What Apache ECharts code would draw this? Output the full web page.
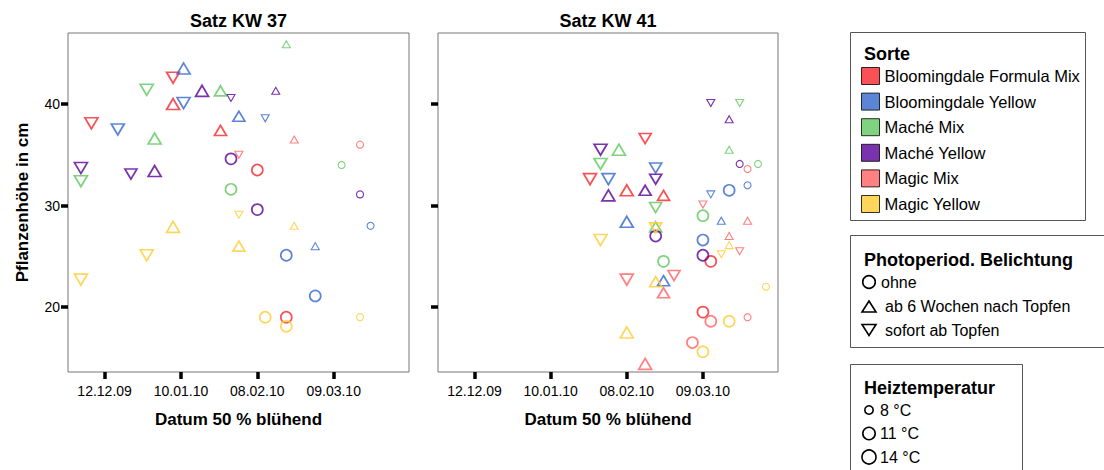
<!DOCTYPE html>
<html><head><meta charset="utf-8">
<script src="https://cdn.jsdelivr.net/npm/echarts@6/dist/echarts.min.js"></script>
<style>html,body{margin:0;padding:0;background:#fff}#c{width:1104px;height:470px}</style>
</head><body><div id="c"></div>
<script>
// ---------- data ----------
const sorten = ['Bloomingdale Formula Mix','Bloomingdale Yellow','Maché Mix','Maché Yellow','Magic Mix','Magic Yellow'];
const sortenFarben = ['#f8262a','#3366cc','#5fc85f','#5a0099','#ff6262','#ffcc33'];
const panelTitel = ['Satz KW 37','Satz KW 41'];
const xTickDaten = ['12.12.09','10.01.10','08.02.10','09.03.10'];
const yTicks = [20,30,40];
const lichtLabels = ['ohne','ab 6 Wochen nach Topfen','sofort ab Topfen'];
const tempLabels = ['8 °C','11 °C','14 °C'];

// Satz KW 37
const kw37Sorte = [1,0,2,3,2,3,0,1,1,0,1,0,2,3,4,0,3,2,3,3,2,3,2,3,1,4,4,2,3,5,5,5,5,5,5,1,1,1,1,5,0,5,5];
const kw37Licht = ['u','d','d','u','u','d','u','d','u','d','d','u','u','o','d','o','d','d','d','u','o','o','u','u','d','u','o','o','o','d','u','u','d','d','u','o','u','o','o','o','o','o','o'];
const kw37Temp  = [14,14,14,14,11,8,14,14,11,14,14,11,14,11,8,11,14,14,11,14,11,11,8,8,8,8,8,8,8,8,14,11,14,14,8,8,8,11,11,11,11,11,8];
const kw37Datum = ['11.01.10','07.01.10','28.12.09','18.01.10','25.01.10','29.01.10','07.01.10','11.01.10','01.02.10','07.12.09','17.12.09','25.01.10','31.12.09','29.01.10','01.02.10','08.02.10','03.12.09','03.12.09','22.12.09','31.12.09','29.01.10','08.02.10','19.02.10','15.02.10','11.02.10','22.02.10','19.03.10','12.03.10','19.03.10','01.02.10','07.01.10','01.02.10','28.12.09','03.12.09','22.02.10','23.03.10','02.03.10','19.02.10','02.03.10','11.02.10','19.02.10','19.02.10','19.03.10'];
const kw37Hoehe = [43.5,42.6,41.4,41.3,41.3,40.6,40.0,40.1,38.8,38.1,37.5,37.4,36.6,34.6,35.0,33.5,33.7,32.4,33.1,33.4,31.6,29.6,45.9,41.3,38.6,36.5,36.0,34.0,31.1,29.1,27.9,26.0,25.1,22.7,28.0,28.0,26.0,25.1,21.1,19.0,19.0,18.1,19.0];

// Satz KW 41
const kw41Sorte = [3,2,3,0,3,2,2,2,3,4,2,1,0,1,3,3,0,3,0,1,1,1,4,2,2,1,4,1,2,5,3,4,5,1,5,4,5,3,0,2,4,5,1,4,4,5,0,4,5,4,5,4,5,4];
const kw41Licht = ['d','d','u','d','d','u','u','d','o','o','o','d','d','d','d','u','u','u','u','o','o','d','d','d','o','u','u','u','u','d','o','u','u','o','d','d','d','o','o','o','d','u','u','d','u','o','o','o','o','o','u','o','o','u'];
const kw41Temp  = [8,8,8,11,14,14,8,14,8,8,8,11,14,14,11,14,14,11,11,11,8,8,8,11,11,8,8,14,11,11,11,8,8,11,14,8,8,11,11,11,14,11,11,11,11,8,11,11,11,8,14,11,11,14];
const kw41Datum = ['12.03.10','23.03.10','19.03.10','15.02.10','29.01.10','05.02.10','19.03.10','29.01.10','23.03.10','26.03.10','30.03.10','19.02.10','25.01.10','01.02.10','19.02.10','01.02.10','08.02.10','15.02.10','22.02.10','19.03.10','26.03.10','12.03.10','09.03.10','19.02.10','09.03.10','16.03.10','26.03.10','08.02.10','19.02.10','19.02.10','19.02.10','19.03.10','19.03.10','09.03.10','29.01.10','23.03.10','16.03.10','09.03.10','12.03.10','22.02.10','08.02.10','19.02.10','22.02.10','26.02.10','22.02.10','02.04.10','09.03.10','12.03.10','19.03.10','26.03.10','08.02.10','05.03.10','09.03.10','15.02.10'];
const kw41Hoehe = [40.1,40.1,38.5,36.6,35.5,35.5,35.5,34.1,34.1,33.6,34.1,33.7,32.6,32.6,32.6,31.0,31.5,31.5,31.0,31.5,32.0,31.1,30.1,29.8,29.0,28.5,28.5,28.4,27.9,27.8,27.0,27.0,26.1,26.6,26.6,25.5,25.2,25.1,24.5,24.5,22.7,22.5,22.6,23.1,21.4,22.0,19.5,18.6,18.6,19.0,17.5,16.5,15.6,14.4];

// ---------- helpers ----------
const FONT = 'Liberation Sans, Arial, Helvetica, sans-serif';
function toDay(s){const p=s.split('.').map(Number);return Date.UTC(2000+p[2],p[1]-1,p[0])/864e5;}
function fmtDay(v){const d=new Date(Math.round(v)*864e5);const z=n=>String(n).padStart(2,'0');return z(d.getUTCDate())+'.'+z(d.getUTCMonth()+1)+'.'+z(d.getUTCFullYear()%100);}
const xTicks = xTickDaten.map(toDay);
const xMin = xTicks[0]-13.9, xMax = xTicks[0]+115.6;

function symbolFor(licht,temp){
  if(licht==='o'){
    return {symbol:'circle', symbolSize: temp===8?7:(temp===11?11:12.5), symbolRotate:0};
  }
  const sz = temp===8?[8,7]:(temp===11?[12,10]:[13,11]);
  return {symbol:'triangle', symbolSize: sz, symbolRotate: licht==='d'?180:0};
}

function buildSeries(p, sorte, licht, temp, datum, hoehe){
  return sorten.map((name,vi)=>{
    const data=[];
    for(let i=0;i<sorte.length;i++){
      if(sorte[i]!==vi) continue;
      const s=symbolFor(licht[i],temp[i]);
      data.push({value:[toDay(datum[i]),hoehe[i]], symbol:s.symbol, symbolSize:s.symbolSize, symbolRotate:s.symbolRotate,
        itemStyle:{borderWidth: temp[i]===8?1.1:1.7}});
    }
    return {name, type:'scatter', xAxisIndex:p, yAxisIndex:p, data,
      itemStyle:{color:'rgba(0,0,0,0)', borderColor:sortenFarben[vi]},
      emphasis:{disabled:true}, z:2};
  });
}

const grids=[{left:68,top:33,width:341,height:339},{left:438,top:33,width:340,height:339}];

function xAxis(i){
  return {type:'value', gridIndex:i, min:xMin, max:xMax,
    name:'Datum 50 % blühend', nameLocation:'middle', nameGap:39,
    nameTextStyle:{fontFamily:FONT,fontSize:17,fontWeight:'bold',color:'#000'},
    axisLine:{show:false}, splitLine:{show:false},
    axisTick:{show:true, customValues:xTicks, length:7, lineStyle:{color:'#000',width:3.5}},
    axisLabel:{customValues:xTicks, formatter:fmtDay, margin:12, fontFamily:FONT, fontSize:14, color:'#000'}};
}
function yAxis(i){
  return {type:'value', gridIndex:i, min:13.6, max:47,
    name: i===0?'Pflanzenhöhe in cm':'', nameLocation:'middle', nameGap:37,
    nameTextStyle:{fontFamily:FONT,fontSize:17,fontWeight:'bold',color:'#000'},
    axisLine:{show:false}, splitLine:{show:false},
    axisTick:{show:true, customValues:yTicks, length:7, lineStyle:{color:'#000',width:3.5}},
    axisLabel:{show:i===0, customValues:yTicks, margin:8, fontFamily:FONT, fontSize:14, color:'#000'}};
}

const graphic=[];
panelTitel.forEach((t,i)=>{
  graphic.push({type:'text', x:grids[i].left+grids[i].width/2, y:21, style:{text:t, font:'bold 18px '+FONT, fill:'#000', textAlign:'center', textVerticalAlign:'middle'}});
});
// Sorte box
graphic.push({type:'rect', shape:{x:850.5,y:32.5,width:235,height:188}, style:{fill:'none',stroke:'#555',lineWidth:1}});
graphic.push({type:'text', x:864, y:54, style:{text:'Sorte', font:'bold 18px '+FONT, fill:'#000', textVerticalAlign:'middle'}});
// Photoperiod box
graphic.push({type:'rect', shape:{x:850.5,y:235.5,width:262,height:112}, style:{fill:'none',stroke:'#555',lineWidth:1}});
graphic.push({type:'text', x:864, y:260, style:{text:'Photoperiod. Belichtung', font:'bold 18px '+FONT, fill:'#000', textVerticalAlign:'middle'}});
const lichtY=[282,306.5,330];
graphic.push({type:'circle', shape:{cx:869,cy:lichtY[0],r:6.3}, style:{fill:'none',stroke:'#000',lineWidth:1.6}});
graphic.push({type:'polygon', shape:{points:[[869,lichtY[1]-5.5],[876,lichtY[1]+5.5],[862,lichtY[1]+5.5]]}, style:{fill:'none',stroke:'#000',lineWidth:1.6}});
graphic.push({type:'polygon', shape:{points:[[862,lichtY[2]-5.5],[876,lichtY[2]-5.5],[869,lichtY[2]+5.5]]}, style:{fill:'none',stroke:'#000',lineWidth:1.6}});
lichtLabels.forEach((t,i)=>{
  graphic.push({type:'text', x:i===0?881:885, y:lichtY[i], style:{text:t, font:'16px '+FONT, fill:'#000', textVerticalAlign:'middle'}});
});
// Heiztemperatur box
graphic.push({type:'rect', shape:{x:850.5,y:364.5,width:172,height:130}, style:{fill:'none',stroke:'#555',lineWidth:1}});
graphic.push({type:'text', x:864, y:388, style:{text:'Heiztemperatur', font:'bold 18px '+FONT, fill:'#000', textVerticalAlign:'middle'}});
const tempY=[410,433.5,457], tempR=[4.2,6.2,7];
tempLabels.forEach((t,i)=>{
  graphic.push({type:'circle', shape:{cx:869,cy:tempY[i],r:tempR[i]}, style:{fill:'none',stroke:'#000',lineWidth:1.6}});
  graphic.push({type:'text', x:880, y:tempY[i], style:{text:t, font:'16px '+FONT, fill:'#000', textVerticalAlign:'middle'}});
});

const chart = echarts.init(document.getElementById('c'), null, {renderer:'svg'});
chart.setOption({
  animation:false,
  backgroundColor:'#fff',
  grid: grids.map(g=>Object.assign({show:true, borderColor:'#777', borderWidth:1, backgroundColor:'#fff'}, g)),
  xAxis:[xAxis(0),xAxis(1)],
  yAxis:[yAxis(0),yAxis(1)],
  legend:{orient:'vertical', left:856, top:62, padding:[5,5,5,5], itemWidth:18, itemHeight:17, itemGap:7.6, selectedMode:false,
    textStyle:{fontFamily:FONT, fontSize:16.5, color:'#000'},
    data: sorten.map((n,i)=>({name:n, icon:'rect', itemStyle:{color:sortenFarben[i], borderColor:'#000', borderWidth:1}}))},
  series: buildSeries(0,kw37Sorte,kw37Licht,kw37Temp,kw37Datum,kw37Hoehe)
    .concat(buildSeries(1,kw41Sorte,kw41Licht,kw41Temp,kw41Datum,kw41Hoehe)),
  graphic
});
</script></body></html>
